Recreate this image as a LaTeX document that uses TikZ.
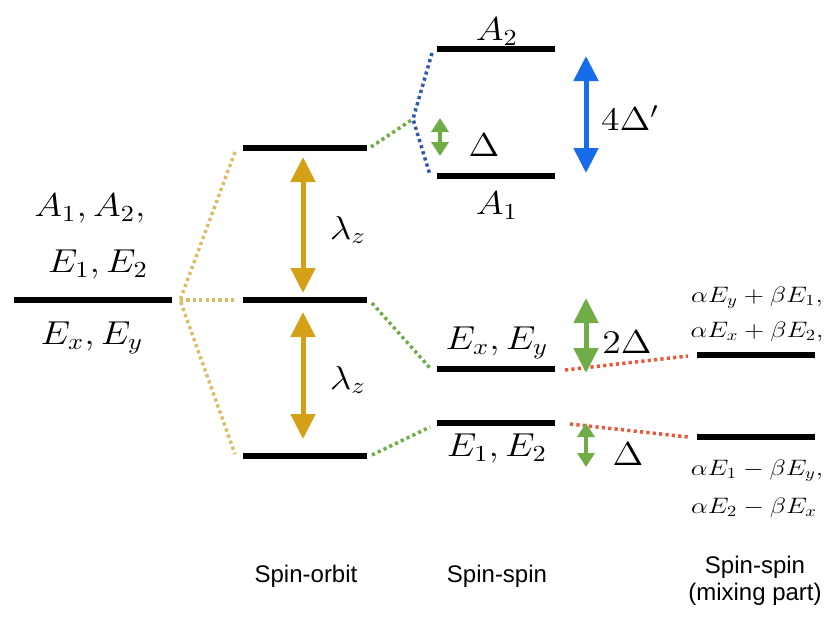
\documentclass[tikz,border=0pt]{standalone}
\usepackage{fontspec}
\setsansfont{Liberation Sans}
\usetikzlibrary{arrows.meta}
\definecolor{gold}{RGB}{212,160,23}
\definecolor{golddot}{RGB}{222,188,100}
\definecolor{grn}{RGB}{112,173,71}
\definecolor{blu}{RGB}{22,108,235}
\definecolor{bludot}{RGB}{45,90,175}
\definecolor{reddot}{RGB}{232,88,60}
\begin{document}
\begin{tikzpicture}[x=1pt,y=-1pt,
  level/.style={line width=6pt},
  dots/.style={line width=3.5pt, dash pattern=on 3.2pt off 3.2pt},
  bigarrow/.style={line width=5pt, {Triangle[width=24pt,length=25pt]}-{Triangle[width=24pt,length=25pt]}},
  smallarrow/.style={line width=4pt, {Triangle[width=17pt,length=14pt]}-{Triangle[width=17pt,length=14pt]}},
  mlab/.style={font=\Large, xscale=2.62, yscale=2.3, inner sep=0pt},
  slab/.style={font=\Large, xscale=1.85, yscale=1.55, inner sep=0pt},
  tlab/.style={font=\sffamily\fontsize{24}{28}\selectfont, inner sep=0pt, align=center}]
\useasboundingbox (0,0) rectangle (829,616);

% level end points
\coordinate (L0a) at (14,300);  \coordinate (L0b) at (172,300);
\coordinate (S1a) at (243,148); \coordinate (S1b) at (367,148);
\coordinate (S2a) at (243,300); \coordinate (S2b) at (367,300);
\coordinate (S3a) at (243,456); \coordinate (S3b) at (367,456);
\coordinate (A2a) at (437,49);  \coordinate (A2b) at (555,49);
\coordinate (A1a) at (437,176); \coordinate (A1b) at (555,176);
\coordinate (Exa) at (437,369); \coordinate (Exb) at (555,369);
\coordinate (E1a) at (437,423); \coordinate (E1b) at (555,423);
\coordinate (M1a) at (697,355); \coordinate (M1b) at (815,355);
\coordinate (M2a) at (697,437); \coordinate (M2b) at (815,437);

\foreach \n in {L0,S1,S2,S3,A2,A1,Ex,E1,M1,M2}
  \draw[level] (\n a) -- (\n b);

% dotted correlation lines
\coordinate (J) at (180,300);
\coordinate (y1) at (235,152); \coordinate (y2) at (237,300); \coordinate (y3) at (235,454);
\draw[dots,golddot] (y1) -- (J) -- (y3);
\draw[dots,golddot] (J) -- (y2);

\coordinate (K) at (413,119);
\coordinate (g1s) at (371,147);
\coordinate (b1) at (432,53); \coordinate (b2) at (430,175);
\draw[dots,grn] (g1s) -- (K);
\draw[dots,bludot] (b1) -- (K) -- (b2);

\coordinate (g2s) at (372,303); \coordinate (g2e) at (430,368);
\coordinate (g3s) at (372,455); \coordinate (g3e) at (430,427);
\draw[dots,grn] (g2s) -- (g2e);
\draw[dots,grn] (g3s) -- (g3e);

\coordinate (r1s) at (565,370); \coordinate (r1e) at (688,356);
\coordinate (r2s) at (570,424); \coordinate (r2e) at (688,437);
\draw[dots,reddot] (r1s) -- (r1e);
\draw[dots,reddot] (r2s) -- (r2e);

% arrows
\coordinate (ya1) at (303,157); \coordinate (ya2) at (303,293);
\coordinate (ya3) at (303,312); \coordinate (ya4) at (303,439);
\draw[bigarrow,gold] (ya1) -- (ya2);
\draw[bigarrow,gold] (ya3) -- (ya4);

\coordinate (ba1) at (586,56); \coordinate (ba2) at (586,173);
\draw[bigarrow,blu] (ba1) -- (ba2);

\coordinate (ga1) at (440,118); \coordinate (ga2) at (440,156);
\draw[smallarrow,grn] (ga1) -- (ga2);

\coordinate (ga3) at (586,298); \coordinate (ga4) at (586,373);
\draw[bigarrow,grn] (ga3) -- (ga4);

\coordinate (ga5) at (586,423); \coordinate (ga6) at (586,467);
\draw[smallarrow,grn] (ga5) -- (ga6);

% labels
\node[mlab] (tl1) at (90,208) {$A_1,A_2,$};
\node[mlab] (tl2) at (98,264) {$E_1,E_2$};
\node[mlab] (tl3) at (92,338) {$E_x,E_y$};
\node[mlab] (tlz1) at (348,230) {$\lambda_z$};
\node[mlab] (tlz2) at (348,380) {$\lambda_z$};
\node[mlab] (tA2) at (497,32) {$A_2$};
\node[mlab] (tA1) at (497,206) {$A_1$};
\node[mlab] (tD1) at (484,145) {$\Delta$};
\node[mlab] (tD4) at (630,118) {$4\Delta'$};
\node[mlab] (tEx) at (497,343) {$E_x,E_y$};
\node[mlab] (tE1) at (497,448) {$E_1,E_2$};
\node[mlab] (tD2) at (627,342) {$2\Delta$};
\node[mlab] (tD3) at (628,454) {$\Delta$};
\node[slab] (m1) at (757,298) {$\alpha E_y+\beta E_1,$};
\node[slab] (m2) at (757,332) {$\alpha E_x+\beta E_2,$};
\node[slab] (m3) at (757,471) {$\alpha E_1-\beta E_y,$};
\node[slab] (m4) at (754,508) {$\alpha E_2-\beta E_x$};
\node[tlab] (c1) at (306,576) {Spin-orbit};
\node[tlab] (c2) at (497,576) {Spin-spin};
\node[tlab] (c3) at (755,581) {Spin-spin\\[-1pt](mixing part)};
\end{tikzpicture}
\end{document}
